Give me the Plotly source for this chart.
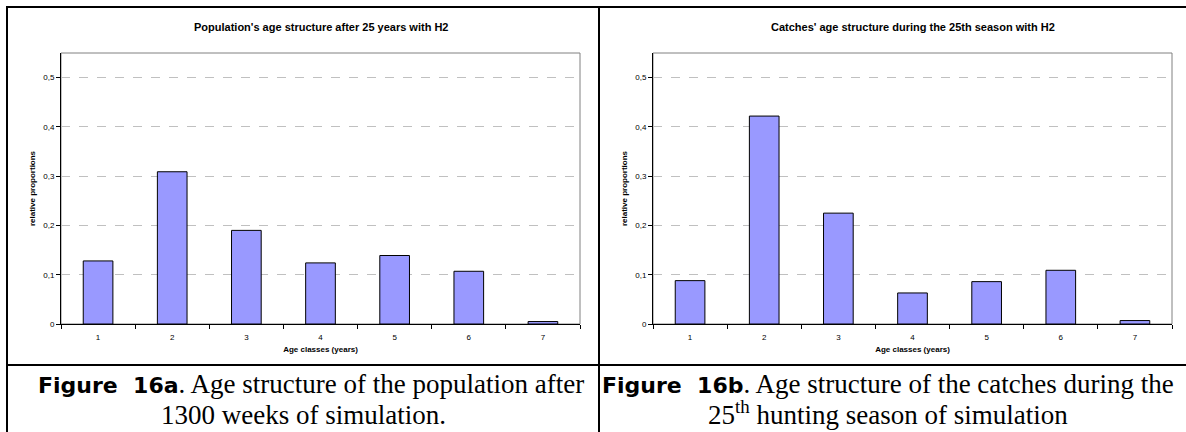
import plotly.graph_objects as go

W, H = 1186, 432

age_classes = ["1", "2", "3", "4", "5", "6", "7"]
population_props = [0.128, 0.309, 0.190, 0.124, 0.139, 0.107, 0.005]
catches_props = [0.088, 0.422, 0.225, 0.063, 0.086, 0.109, 0.007]
y_tick_values = [0, 0.1, 0.2, 0.3, 0.4, 0.5]
y_tick_labels = ["0", "0,1", "0,2", "0,3", "0,4", "0,5"]

title_a = "Population's age structure after 25 years with H2"
title_b = "Catches' age structure during the 25th season with H2"
x_title = "Age classes (years)"
y_title = "relative proportions"
fig_label_a = "Figure\u00a0 16a"
fig_label_b = "Figure\u00a0 16b"
caption_a_line1 = ". Age structure of the population after"
caption_a_line2 = "1300 weeks of simulation."
caption_b_line1 = ". Age structure of the catches during the"
caption_b_line2 = "25<sup>th</sup> hunting season of simulation"

x_pos = [int(a) for a in age_classes]


def px_x(p):
    return p / W


def px_y(p):
    return 1 - p / H


fig = go.Figure()
bar_style = dict(marker=dict(color="#9999FF", line=dict(color="#000000", width=1)),
                 showlegend=False, hoverinfo="x+y", width=0.4)
fig.add_trace(go.Bar(x=x_pos, y=population_props, xaxis="x", yaxis="y", **bar_style))
fig.add_trace(go.Bar(x=x_pos, y=catches_props, xaxis="x2", yaxis="y2", **bar_style))

SANS = "Liberation Sans, Arial, sans-serif"
tick_font = dict(family=SANS, size=8, color="#000000")
title_font = dict(family=SANS, size=8, color="#000000")


def xaxis(dom, anchor):
    return dict(domain=dom, anchor=anchor, range=[x_pos[0] - 0.5, x_pos[-1] + 0.5],
                tickvals=x_pos, ticktext=age_classes, ticks="outside", ticklen=0,
                ticklabelstandoff=5,
                minor=dict(tick0=0.5, dtick=1, ticks="outside", ticklen=4,
                           tickcolor="#000000", tickwidth=1, showgrid=False,
                           gridcolor="#FFFFFF"),
                showline=True, linecolor="#000000", linewidth=1,
                showgrid=False, gridcolor="#FFFFFF", zeroline=False, showspikes=False,
                tickfont=tick_font, automargin=False,
                title=dict(text="<b>" + x_title + "</b>", font=title_font, standoff=5))


def yaxis(dom, anchor):
    return dict(domain=dom, anchor=anchor, range=[0, 0.55], tickvals=y_tick_values,
                ticktext=y_tick_labels, ticks="outside", ticklen=4, tickcolor="#000000",
                showline=True, linecolor="#000000", linewidth=1, zeroline=False,
                showgrid=True, gridcolor="#C0C0C0", griddash="dash", gridwidth=1,
                tickfont=tick_font, automargin=False,
                title=dict(text="<b>" + y_title + "</b>", font=title_font, standoff=6))


ydom = [px_y(324), px_y(53)]
fig.update_layout(
    width=W, height=H, margin=dict(l=0, r=0, t=0, b=0),
    paper_bgcolor="#FFFFFF", plot_bgcolor="#FFFFFF",
    separators=", ", template="none",
    font=dict(family=SANS),
    xaxis=xaxis([px_x(61), px_x(580)], "y"),
    yaxis=yaxis(ydom, "x"),
    xaxis2=xaxis([px_x(653), px_x(1172)], "y2"),
    yaxis2=yaxis(ydom, "x2"),
)

shapes = []
# plot-area frames (grey)
for (x0, x1) in [(61, 580), (653, 1172)]:
    shapes.append(dict(type="rect", xref="paper", yref="paper",
                       x0=px_x(x0), x1=px_x(x1), y0=ydom[0], y1=ydom[1],
                       line=dict(color="#808080", width=1), layer="below"))
# table borders
border = dict(color="#000000", width=2)
shapes += [
    dict(type="line", xref="paper", yref="paper", x0=px_x(6), x1=1, y0=px_y(7), y1=px_y(7), line=border),
    dict(type="line", xref="paper", yref="paper", x0=px_x(7), x1=px_x(7), y0=px_y(6), y1=0, line=border),
    dict(type="line", xref="paper", yref="paper", x0=px_x(599), x1=px_x(599), y0=px_y(6), y1=0, line=border),
    dict(type="line", xref="paper", yref="paper", x0=px_x(6), x1=1, y0=px_y(365), y1=px_y(365), line=border),
]
fig.update_layout(shapes=shapes)

chart_title_font = dict(family=SANS, size=11, color="#000000")
cap_font = dict(family="Liberation Serif, Times New Roman, serif", size=27, color="#000000")
label_style = "font-family:DejaVu Sans;font-weight:bold;font-size:22px"


def ann(text, cx, cy, font):
    return dict(text=text, x=px_x(cx), y=px_y(cy), xref="paper", yref="paper",
                showarrow=False, font=font, xanchor="center", yanchor="middle", align="center")


fig.update_layout(annotations=[
    ann("<b>" + title_a + "</b>", 320.5, 27, chart_title_font),
    ann("<b>" + title_b + "</b>", 912.5, 27, chart_title_font),
    ann("<span style='" + label_style + "'>" + fig_label_a + "</span>" + caption_a_line1, 311, 384, cap_font),
    ann(caption_a_line2, 303, 415, cap_font),
    ann("<span style='" + label_style + "'>" + fig_label_b + "</span>" + caption_b_line1, 888, 384, cap_font),
    ann(caption_b_line2, 888, 413, cap_font),
])

fig.write_html("out.html", config={"displayModeBar": False},
               post_script="document.body.style.margin='0';document.body.style.overflow='hidden';")
